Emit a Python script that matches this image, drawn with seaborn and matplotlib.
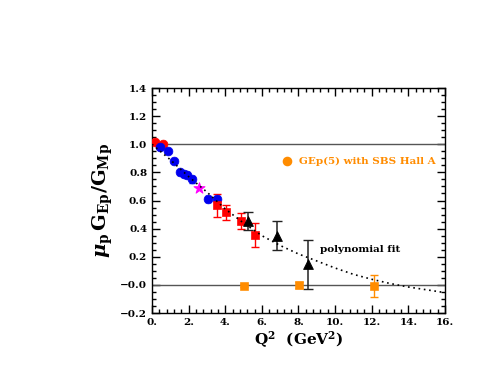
import numpy as np
import pandas as pd
import matplotlib
matplotlib.use("Agg")
import matplotlib.pyplot as plt
from matplotlib.ticker import MultipleLocator, FuncFormatter
import seaborn as sns

# data
red_low_q2 = [0.16, 0.44, 0.58]
red_low_r = [1.016, 0.99, 1.0]

blue_q2 = [0.44, 0.89, 1.22, 1.53, 1.75, 1.9, 2.2, 3.04, 3.57]
blue_r = [0.98, 0.95, 0.88, 0.80, 0.79, 0.78, 0.75, 0.61, 0.61]
blue_err = [0.015, 0.015, 0.015, 0.02, 0.02, 0.02, 0.025, 0.02, 0.025]

star_q2 = [2.57]
star_r = [0.69]

red_q2 = [3.55, 4.04, 4.85, 5.63]
red_r = [0.565, 0.515, 0.454, 0.355]
red_err = [0.08, 0.055, 0.06, 0.085]

tri_q2 = [5.27, 6.81, 8.54]
tri_r = [0.454, 0.35, 0.147]
tri_err = [0.063, 0.105, 0.175]

gep5_q2 = [5.05, 8.03, 12.1]
gep5_r = [-0.005, 0.0, -0.005]
gep5_err = [0.01, 0.02, 0.078]

fit_q2 = [0, 1, 2, 3, 4, 5, 6, 7, 8, 9, 10, 11, 12, 13, 14, 15, 16]
fit_r = [1.0, 0.89, 0.77, 0.66, 0.54, 0.44, 0.35, 0.28, 0.22, 0.17, 0.12,
         0.075, 0.04, 0.01, -0.015, -0.035, -0.055]

sns.set_style("ticks")
plt.rcParams["font.family"] = ["DejaVu Serif"]
plt.rcParams["font.weight"] = "bold"
plt.rcParams["mathtext.fontset"] = "dejavuserif"
plt.rcParams["mathtext.default"] = "bf"
plt.rcParams["axes.edgecolor"] = "black"
plt.rcParams["xtick.color"] = "black"
plt.rcParams["ytick.color"] = "black"
plt.rcParams["axes.labelcolor"] = "black"

fig = plt.figure(figsize=(4.94, 3.82), dpi=100)
ax = fig.add_axes([0.3077, 0.1806, 0.593, 0.589])

ax.axhline(1.0, color="#555555", lw=1.0, zorder=1)
ax.axhline(0.0, color="#555555", lw=1.0, zorder=1)

red = "#ff0000"
blue = "#0000ee"
orange = "#ff8c00"

ax.errorbar(blue_q2, blue_r, yerr=blue_err, fmt="none", ecolor=blue, lw=1, capsize=2, zorder=3)
sns.scatterplot(x=blue_q2, y=blue_r, ax=ax, color=blue, s=40, marker="o", edgecolor=blue, zorder=4)
sns.scatterplot(x=red_low_q2, y=red_low_r, ax=ax, color=red, s=40, marker="o", edgecolor=red, zorder=3)
sns.scatterplot(x=star_q2, y=star_r, ax=ax, color="#ff00ff", s=70, marker="*", edgecolor="#ff00ff", zorder=4)

ax.errorbar(red_q2, red_r, yerr=red_err, fmt="none", ecolor=red, lw=1, capsize=3, zorder=3)
sns.scatterplot(x=red_q2, y=red_r, ax=ax, color=red, s=35, marker="s", edgecolor=red, zorder=4)

ax.errorbar(tri_q2, tri_r, yerr=tri_err, fmt="none", ecolor="#222222", lw=1.1, capsize=3.5, zorder=3)
sns.scatterplot(x=tri_q2, y=tri_r, ax=ax, color="black", s=50, marker="^", edgecolor="black", zorder=4)

ax.errorbar(gep5_q2, gep5_r, yerr=gep5_err, fmt="none", ecolor=orange, lw=1, capsize=3, zorder=3)
sns.scatterplot(x=gep5_q2, y=gep5_r, ax=ax, color=orange, s=30, marker="s", edgecolor=orange, zorder=4)

# dotted polynomial fit drawn over the points
fit = pd.DataFrame({"q2": fit_q2, "r": fit_r})
sns.lineplot(data=fit, x="q2", y="r", ax=ax, color="black", lw=1.2,
             linestyle=(0, (1, 2.2)), zorder=5)

# legend-like annotations
ax.scatter([7.36], [0.88], color=orange, s=35, marker="o", zorder=4)
ax.text(8.05, 0.88, "GEp(5) with SBS Hall A", color=orange, fontsize=7.5,
        fontweight="bold", va="center", ha="left")
ax.text(9.2, 0.25, "polynomial fit", color="black", fontsize=7.5,
        fontweight="bold", va="center", ha="left")

ax.set_xlim(0, 16)
ax.set_ylim(-0.2, 1.4)
ax.xaxis.set_major_locator(MultipleLocator(2))
ax.xaxis.set_minor_locator(MultipleLocator(0.4))
ax.yaxis.set_major_locator(MultipleLocator(0.2))
ax.yaxis.set_minor_locator(MultipleLocator(0.05))
ax.xaxis.set_major_formatter(FuncFormatter(lambda v, p: f"{v:.0f}."))
ax.yaxis.set_major_formatter(FuncFormatter(
    lambda v, p: "\u22120.0" if abs(v) < 1e-9 else f"{v:.1f}".replace("-", "\u2212")))
ax.tick_params(which="both", direction="in", top=True, right=True, width=1, labelsize=7.5)
ax.tick_params(which="major", length=6)
ax.tick_params(which="minor", length=3)
for sp in ax.spines.values():
    sp.set_linewidth(1.0)

ax.set_xlabel(r"Q$^2$  (GeV$^2$)", fontsize=11, fontweight="bold", labelpad=2)
ax.set_ylabel(r"$\mathit{\mu}_p\,G_{Ep}/G_{Mp}$", fontsize=14, labelpad=4)

fig.savefig("out.png", dpi=100)
